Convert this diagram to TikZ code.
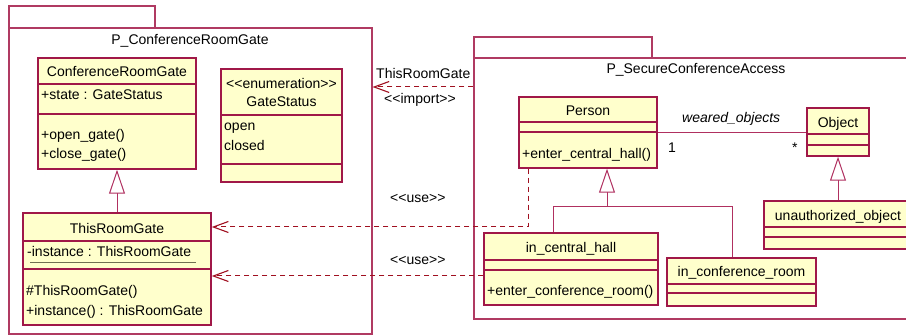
\documentclass[tikz,border=0pt]{standalone}
\usepackage{fontspec}
\setmainfont{Liberation Sans}
\usetikzlibrary{arrows.meta,fit}
\definecolor{clsc}{HTML}{A01848}
\definecolor{pkgc}{HTML}{B03A62}
\definecolor{linec}{HTML}{B03060}
\definecolor{depc}{HTML}{A01020}
\definecolor{fillc}{HTML}{FFFFCC}
\definecolor{ulc}{HTML}{707050}
\newcommand{\dlt}{<\kern0pt<}
\newcommand{\dgt}{>\kern0pt>}
\tikzset{
  classbox/.style={draw=clsc, fill=fillc, line width=1.5pt, inner sep=0pt},
  comp/.style={draw=clsc, line width=1.1pt},
  pkgbox/.style={draw=pkgc, line width=1.1pt, inner sep=0pt},
  txt/.style={inner sep=0pt, font=\fontsize{14pt}{16pt}\selectfont},
  dep/.style={draw=depc, line width=1pt, dash pattern=on 5pt off 4pt,
    -{Straight Barb[length=15pt,width=11pt,line width=1.1pt]}},
  gen/.style={draw=linec, line width=1pt,
    -{Triangle[open,length=24pt,width=16pt,fill=white,line width=1pt]}},
  assoc/.style={draw=linec, line width=1pt},
}
\begin{document}
\begin{tikzpicture}[x=1pt,y=-1pt]
\useasboundingbox (0,0) rectangle (906,336);
% packages
\node[pkgbox, fit={(9,6) (155,28)}] (ltab) {};
\node[pkgbox, fit={(9,28) (372,334)}] (lpkg) {};
\node[txt, anchor=base] (lpkgname) at (190,45) {P\_ConferenceRoomGate};
\node[pkgbox, fit={(474,37) (652,58)}] (rtab) {};
\node[pkgbox, fit={(474,58) (924,319)}] (rpkg) {};
\node[txt, anchor=base] (rpkgname) at (696,74) {P\_SecureConferenceAccess};

% ConferenceRoomGate
\node[classbox, fit={(38,58) (196,169)}] (crg) {};
\draw[comp] (38,84) -- (196,84);
\draw[comp] (38,114) -- (196,114);
\node[txt, anchor=base] (crgname) at (117,77) {ConferenceRoomGate};
\node[txt, anchor=base west] (crga) at (41,100) {+state : GateStatus};
\node[txt, anchor=base west] (crgo1) at (41,140) {+open\_gate()};
\node[txt, anchor=base west] (crgo2) at (41,159) {+close\_gate()};

% GateStatus
\node[classbox, fit={(221,69) (342,182)}] (gs) {};
\draw[comp] (221,115) -- (342,115);
\draw[comp] (221,164) -- (342,164);
\node[txt, anchor=base] (gsst) at (281.5,89) {\dlt enumeration\dgt};
\node[txt, anchor=base] (gsname) at (281.5,107) {GateStatus};
\node[txt, anchor=base west] (gsa1) at (224,131) {open};
\node[txt, anchor=base west] (gsa2) at (224,151) {closed};

% ThisRoomGate
\node[classbox, fit={(23,213) (211,325)}] (trg) {};
\draw[comp] (23,241) -- (211,241);
\draw[comp] (23,269) -- (211,269);
\node[txt, anchor=base] (trgname) at (117,234) {ThisRoomGate};
\node[txt, anchor=base west] (trga) at (27,257) {-instance : ThisRoomGate};
\draw[draw=ulc, line width=1pt] (30,263) -- (196,263);
\node[txt, anchor=base west] (trgo1) at (26,296) {\#ThisRoomGate()};
\node[txt, anchor=base west] (trgo2) at (26,316) {+instance() : ThisRoomGate};

% Person
\node[classbox, fit={(519,97) (657,168)}] (prs) {};
\draw[comp] (519,122) -- (657,122);
\draw[comp] (519,132) -- (657,132);
\node[txt, anchor=base] (prsname) at (588,116) {Person};
\node[txt, anchor=base west] (prso) at (522,159) {+enter\_central\_hall()};

% Object
\node[classbox, fit={(807,108) (869,156)}] (obj) {};
\draw[comp] (807,134) -- (869,134);
\draw[comp] (807,145) -- (869,145);
\node[txt, anchor=base] (objname) at (838,128) {Object};

% unauthorized_object
\node[classbox, fit={(764,201) (912,249)}] (uo) {};
\draw[comp] (764,227) -- (912,227);
\draw[comp] (764,237) -- (912,237);
\node[txt, anchor=base] (uoname) at (838,221) {unauthorized\_object};

% in_central_hall
\node[classbox, fit={(484,233) (658,305)}] (ich) {};
\draw[comp] (484,260) -- (658,260);
\draw[comp] (484,270) -- (658,270);
\node[txt, anchor=base] (ichname) at (571,253) {in\_central\_hall};
\node[txt, anchor=base west] (icho) at (487,296) {+enter\_conference\_room()};

% in_conference_room
\node[classbox, fit={(667,258) (816,306)}] (icr) {};
\draw[comp] (667,284) -- (816,284);
\draw[comp] (667,293) -- (816,293);
\node[txt, anchor=base] (icrname) at (741.5,277) {in\_conference\_room};

% import dependency
\coordinate (impy) at (0,87);
\draw[dep] (rpkg.west |- impy) -- (lpkg.east |- impy);
\node[txt, anchor=base west] (implbl) at (376,79) {ThisRoomGate};
\node[txt, anchor=base west] (impst) at (384,104) {\dlt import\dgt};

% use dependencies
\coordinate (u1) at (528,227);
\draw[dep] (prs.south -| u1) -- (u1) -- (trg.east |- u1);
\node[txt, anchor=base west] (use1) at (390,203) {\dlt use\dgt};
\coordinate (u2) at (0,276);
\draw[dep] (ich.west |- u2) -- (trg.east |- u2);
\node[txt, anchor=base west] (use2) at (390,265) {\dlt use\dgt};

% generalizations
\draw[gen] (trg.north) -- (crg.south);
\coordinate (g1) at (607,207);
\coordinate (j1) at (553,207);
\coordinate (j2) at (732,207);
\draw[assoc] (ich.north -| j1) -- (j1) -- (j2) -- (icr.north -| j2);
\draw[gen] (g1) -- (prs.south -| g1);
\draw[gen] (uo.north) -- (obj.south);

% association
\coordinate (a1) at (0,133);
\draw[assoc] (prs.east |- a1) -- (obj.west |- a1);
\node[txt, anchor=base west, font=\fontsize{14pt}{16pt}\selectfont\itshape] (assocname) at (682,123) {weared\_objects};
\node[txt, anchor=base west] (m1) at (668,153) {1};
\node[txt, anchor=base west] (m2) at (792,153) {*};
\end{tikzpicture}
\end{document}
